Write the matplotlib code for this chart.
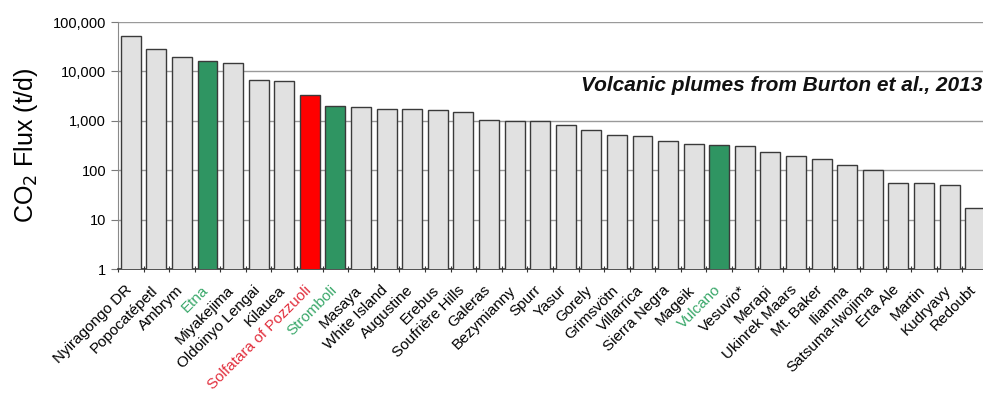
import numpy as np
import matplotlib
matplotlib.use('Agg')
import matplotlib.pyplot as plt
import matplotlib.ticker as mticker
import matplotlib.transforms as mtransforms

plt.rcParams['font.family'] = ['Liberation Sans', 'DejaVu Sans']

volcanoes = ["Nyiragongo DR", "Popocatépetl", "Ambrym", "Etna", "Miyakejima",
             "Oldoinyo Lengai", "Kilauea", "Solfatara of Pozzuoli", "Stromboli",
             "Masaya", "White Island", "Augustine", "Erebus", "Soufrière Hills",
             "Galeras", "Bezymianny", "Spurr", "Yasur", "Gorely", "Grimsvötn",
             "Villarrica", "Sierra Negra", "Mageik", "Vulcano", "Vesuvio*",
             "Merapi", "Ukinrek Maars", "Mt. Baker", "Iliamna", "Satsuma-Iwojima",
             "Erta Ale", "Martin", "Kudryavy", "Redoubt"]
co2_flux = [52500, 29000, 19400, 16300, 14600, 6700, 6400, 3330, 2000,
            1880, 1760, 1760, 1660, 1480, 1040, 975, 975, 810, 650, 515,
            485, 385, 340, 318, 303, 235, 190, 168, 127, 99,
            56, 56, 50, 17.6]
italian = {"Etna": "green", "Stromboli": "green", "Vulcano": "green",
           "Solfatara of Pozzuoli": "red"}

bar_fill = {"green": "#2f9562", "red": "#ff0000"}
label_col = {"green": "#3aa86a", "red": "#e2303e"}

fig = plt.figure(figsize=(9.83, 4.01), dpi=100)
ax = fig.add_axes([0.120, 0.329, 0.885, 0.616])

x = np.arange(len(volcanoes))
colors = [bar_fill.get(italian.get(v), "#e1e1e1") for v in volcanoes]
ax.bar(x, co2_flux, width=0.78, color=colors, edgecolor="#3a3a3a",
       linewidth=1.0, zorder=3)

ax.set_yscale('log')
ax.set_ylim(1, 100000)
ax.set_xlim(-0.5, len(volcanoes) - 0.5)
ax.yaxis.set_major_formatter(mticker.FuncFormatter(lambda v, p: f"{v:,.0f}"))
ax.yaxis.set_minor_locator(mticker.NullLocator())
ax.grid(axis='y', color="#9a9a9a", linewidth=1.0, zorder=0)
ax.tick_params(axis='y', labelsize=10.5, length=5, color="#7a7a7a")
ax.set_ylabel("CO$_2$ Flux (t/d)", fontsize=18, labelpad=9)

# ticks between categories, names centred under bars
ax.set_xticks(np.arange(len(volcanoes) + 1) - 0.5)
ax.set_xticklabels([])
ax.set_xticks(x, minor=True)
ax.set_xticklabels(volcanoes, minor=True, rotation=45, ha='right',
                   rotation_mode='anchor', fontsize=11)
ax.tick_params(axis='x', which='major', length=4, color="#333333", direction='inout')
ax.tick_params(axis='x', which='minor', length=0, pad=10)
shift = mtransforms.ScaledTranslation(-6 / 100, 0, fig.dpi_scale_trans)
for lbl, name in zip(ax.get_xticklabels(minor=True), volcanoes):
    lbl.set_transform(lbl.get_transform() + shift)
    if name in italian:
        lbl.set_color(label_col[italian[name]])

for side in ['top', 'right']:
    ax.spines[side].set_visible(False)
ax.spines['left'].set_color("#8a8a8a")
ax.spines['bottom'].set_color("#333333")
ax.spines['bottom'].set_linewidth(1.2)

ax.text(0.994, 0.745, "Volcanic plumes from Burton et al., 2013",
        transform=ax.transAxes, ha='right', va='center', fontsize=15,
        fontweight='bold', fontstyle='italic', color="#111111", zorder=5)

fig.savefig("out.png", dpi=100)
